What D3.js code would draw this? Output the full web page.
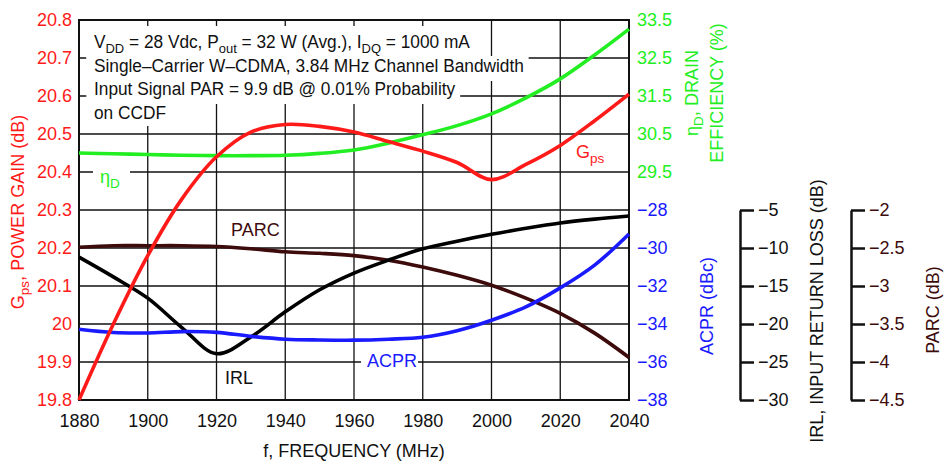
<!DOCTYPE html>
<html>
<head>
<meta charset="utf-8">
<script src="https://cdn.jsdelivr.net/npm/d3@7"></script>
<style>
  body { margin: 0; background: #fff; }
  text { font-family: "Liberation Sans Narrow", "Arial Narrow", "Liberation Sans", sans-serif; }
</style>
</head>
<body>
<svg id="chart" width="944" height="464"></svg>
<script>
const freq = [1880, 1890, 1900, 1910, 1920, 1930, 1940, 1950, 1960, 1970, 1980, 1990, 2000, 2010, 2020, 2030, 2040]
const gps  = [19.8, 20.0, 20.18, 20.33, 20.44, 20.505, 20.525, 20.52, 20.505, 20.48, 20.455, 20.425, 20.38, 20.42, 20.47, 20.535, 20.605]
const eff  = [30.0, 29.98, 29.96, 29.94, 29.93, 29.93, 29.94, 29.99, 30.08, 30.26, 30.48, 30.72, 31.03, 31.45, 31.95, 32.58, 33.26]
const acpr = [-34.28, -34.45, -34.47, -34.4, -34.44, -34.65, -34.8, -34.84, -34.85, -34.8, -34.7, -34.35, -33.8, -33.1, -32.1, -30.9, -29.26]
const irl  = [-11.2, -13.8, -16.6, -20.5, -23.9, -21.7, -18.4, -15.5, -13.3, -11.6, -10.1, -9.1, -8.2, -7.4, -6.7, -6.2, -5.8]
const parc = [-2.49, -2.47, -2.47, -2.47, -2.48, -2.51, -2.55, -2.57, -2.6, -2.66, -2.75, -2.86, -2.99, -3.16, -3.36, -3.62, -3.94]

const xTicks    = [1880, 1900, 1920, 1940, 1960, 1980, 2000, 2020, 2040]
const gpsTicks  = [19.8, 19.9, 20, 20.1, 20.2, 20.3, 20.4, 20.5, 20.6, 20.7, 20.8]
const effTicks  = [29.5, 30.5, 31.5, 32.5, 33.5]
const acprTicks = [-38, -36, -34, -32, -30, -28]
const irlTicks  = [-30, -25, -20, -15, -10, -5]
const parcTicks = [-4.5, -4, -3.5, -3, -2.5, -2]

const noteLines = [
  [['V'], ['DD', 'sub'], [' = 28 Vdc, P'], ['out', 'sub'], [' = 32 W (Avg.), I'], ['DQ', 'sub'], [' = 1000 mA']],
  [['Single\u2013Carrier W\u2013CDMA, 3.84 MHz Channel Bandwidth']],
  [['Input Signal PAR = 9.9 dB @ 0.01% Probability']],
  [['on CCDF']]
]

const RED = '#ff1a1a', GREEN = '#22ee22', BLUE = '#1a1aff', BROWN = '#3d0b0b'

const svg = d3.select('#chart')
const L = 79, R = 629, T = 20, B = 400

const x = d3.scaleLinear([1880, 2040], [L, R])
const yG = d3.scaleLinear([19.8, 20.8], [B, T])
const yE = d3.scaleLinear([23.5, 33.5], [B, T])
const yA = d3.scaleLinear([-38, -18], [B, T])
const yI = d3.scaleLinear([-30, 20], [B, T])
const yP = d3.scaleLinear([-4.5, 0.5], [B, T])

const minus = s => String(s).replace('-', '\u2212')

// subscripts via dy shifts
function addParts(t, parts, size) {
  let shifted = false
  parts.forEach(([s, kind]) => {
    const ts = t.append('tspan').text(s)
    if (kind === 'sub' && !shifted) { ts.attr('dy', 5).attr('font-size', size * 0.75); shifted = true }
    else if (kind !== 'sub' && shifted) { ts.attr('dy', -5); shifted = false }
    else if (kind === 'sub') ts.attr('font-size', size * 0.75)
  })
}

// grid
const grid = svg.append('g').attr('stroke', '#111').attr('stroke-width', 1.3)
grid.selectAll('.v').data(xTicks).enter().append('line')
  .attr('x1', d => x(d)).attr('x2', d => x(d)).attr('y1', T).attr('y2', B)
grid.selectAll('.h').data(gpsTicks).enter().append('line')
  .attr('x1', L).attr('x2', R).attr('y1', d => yG(d)).attr('y2', d => yG(d))

// note box, each line on its own white patch (narrowed a bit to match the condensed face)
const notes = svg.append('g').attr('transform', 'translate(94,0) scale(0.96,1) translate(-94,0)')
const baselines = [48.5, 72, 95.5, 119]
const tops = [26, 56, 79, 102]
const bottoms = [58, 81, 104, 126]
noteLines.forEach((parts, i) => {
  const t = notes.append('text').attr('x', 94).attr('y', baselines[i])
    .attr('font-size', 18).attr('fill', '#111')
  addParts(t, parts, 18)
  const bb = t.node().getBBox()
  notes.insert('rect', 'text')
    .attr('x', 86).attr('y', tops[i])
    .attr('width', bb.x + bb.width + 5 - 86).attr('height', bottoms[i] - tops[i])
    .attr('fill', '#fff')
})

// white patches behind in-plot labels
svg.append('rect').attr('x', 93).attr('y', 166).attr('width', 37).attr('height', 24).attr('fill', '#fff')
svg.append('rect').attr('x', 361).attr('y', 350).attr('width', 57).attr('height', 22).attr('fill', '#fff')

// frame
svg.append('rect').attr('x', L).attr('y', T).attr('width', R - L).attr('height', B - T)
  .attr('fill', 'none').attr('stroke', '#111').attr('stroke-width', 2)

// curves
const series = [
  { v: parc, y: yP, c: BROWN },
  { v: irl, y: yI, c: '#000' },
  { v: acpr, y: yA, c: BLUE },
  { v: eff, y: yE, c: GREEN },
  { v: gps, y: yG, c: RED }
]
series.forEach(s => {
  const line = d3.line().x((d, i) => x(freq[i])).y(d => s.y(d)).curve(d3.curveCatmullRom.alpha(0.5))
  svg.append('path').datum(s.v).attr('d', line)
    .attr('fill', 'none').attr('stroke', s.c).attr('stroke-width', 3.6)
})

// axes
function styleAxis(g, color) {
  g.selectAll('text').attr('font-size', 18).attr('fill', color)
  g.selectAll('path,line').attr('stroke', '#111')
}

svg.append('g').attr('transform', `translate(0,${B})`)
  .call(d3.axisBottom(x).tickValues(xTicks).tickSize(0).tickPadding(14).tickFormat(d3.format('d')))
  .call(g => g.select('.domain').remove())
  .call(g => styleAxis(g, '#111'))

svg.append('g').attr('transform', `translate(${L},0)`)
  .call(d3.axisLeft(yG).tickValues(gpsTicks).tickSize(0).tickPadding(7).tickFormat(d => String(+d.toFixed(1))))
  .call(g => g.select('.domain').remove())
  .call(g => styleAxis(g, RED))

svg.append('g').attr('transform', `translate(${R},0)`)
  .call(d3.axisRight(yE).tickValues(effTicks).tickSize(0).tickPadding(8).tickFormat(d => d.toFixed(1)))
  .call(g => g.select('.domain').remove())
  .call(g => styleAxis(g, GREEN))

svg.append('g').attr('transform', `translate(${R},0)`)
  .call(d3.axisRight(yA).tickValues(acprTicks).tickSize(0).tickPadding(8).tickFormat(minus))
  .call(g => g.select('.domain').remove())
  .call(g => styleAxis(g, BLUE))

const irlScale = d3.scaleLinear([-30, -5], [B, yI(-5)])
svg.append('g').attr('transform', 'translate(740,0)')
  .call(d3.axisRight(irlScale).tickValues(irlTicks).tickSize(14).tickSizeOuter(0).tickPadding(4).tickFormat(minus))
  .call(g => styleAxis(g, '#111'))
  .call(g => g.selectAll('path,line').attr('stroke-width', 2.5))

const parcScale = d3.scaleLinear([-4.5, -2], [B, yP(-2)])
svg.append('g').attr('transform', 'translate(851,0)')
  .call(d3.axisRight(parcScale).tickValues(parcTicks).tickSize(14).tickSizeOuter(0).tickPadding(4).tickFormat(minus))
  .call(g => styleAxis(g, BROWN))
  .call(g => g.selectAll('path,line').attr('stroke', '#111').attr('stroke-width', 2.5))

// titles
function title(px, py, rot, color, parts) {
  const t = svg.append('text')
    .attr('transform', `translate(${px},${py}) rotate(${rot})`)
    .attr('text-anchor', 'middle').attr('font-size', 18).attr('fill', color)
  addParts(t, parts, 18)
  return t
}

title(24, 212, -90, RED, [['G'], ['ps', 'sub'], [', POWER GAIN (dB)']])
title(698, 93, -90, GREEN, [['\u03b7'], ['D', 'sub'], [', DRAIN']])
title(723, 93, -90, GREEN, [['EFFICIENCY (%)']])
title(713, 306, -90, BLUE, [['ACPR (dBc)']])
title(823, 311, -90, '#111', [['IRL, INPUT RETURN LOSS (dB)']])
title(939, 310, -90, BROWN, [['PARC (dB)']])

svg.append('text').attr('x', (L + R) / 2).attr('y', 457).attr('text-anchor', 'middle')
  .attr('font-size', 18).attr('fill', '#111').text('f, FREQUENCY (MHz)')

// in-plot labels
function label(px, py, color, parts) {
  const t = svg.append('text').attr('x', px).attr('y', py).attr('font-size', 18).attr('fill', color)
  addParts(t, parts, 18)
}
label(100, 183, GREEN, [['\u03b7'], ['D', 'sub']])
label(231, 236, BROWN, [['PARC']])
label(225, 384, '#111', [['IRL']])
label(367, 367, BLUE, [['ACPR']])
label(576, 158, RED, [['G'], ['ps', 'sub']])
</script>
</body>
</html>
